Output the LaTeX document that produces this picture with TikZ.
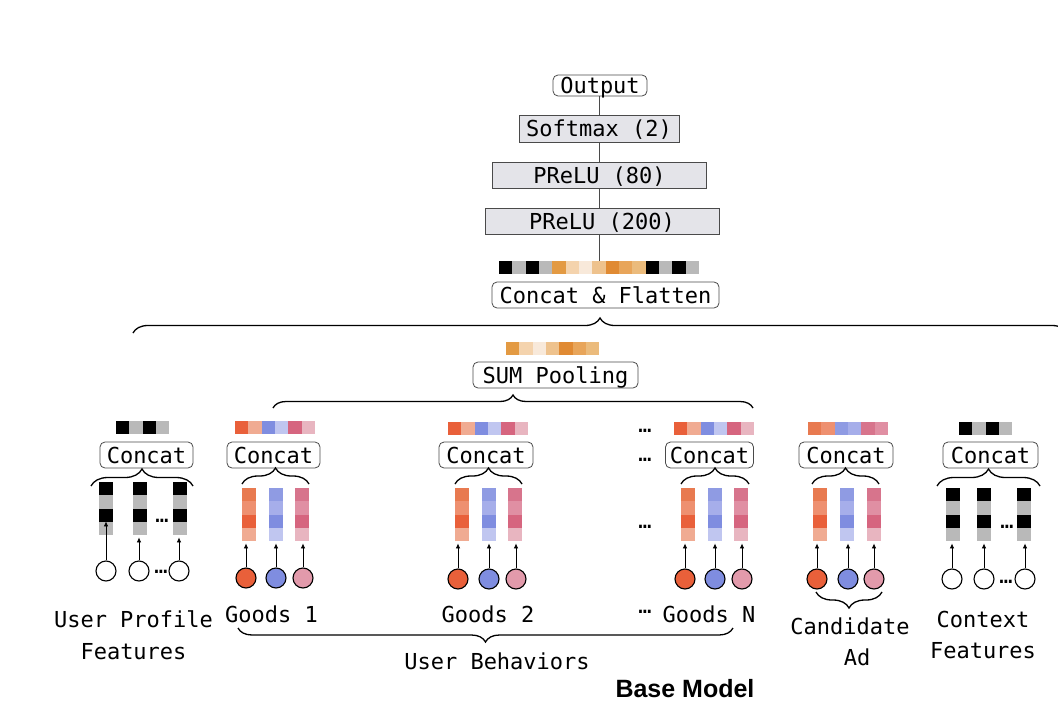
\documentclass[tikz,border=0pt]{standalone}
\usepackage{fontspec}
\newfontfamily\mono{DejaVu Sans Mono}
\newfontfamily\hel{Liberation Sans}
\usetikzlibrary{arrows.meta,decorations.pathreplacing}
\definecolor{gy}{HTML}{B9B9B9}
\definecolor{bk}{HTML}{000000}
\definecolor{oa}{HTML}{E39A43}
\definecolor{ob}{HTML}{F4D3AD}
\definecolor{oc}{HTML}{F8E9DA}
\definecolor{od}{HTML}{EEC28D}
\definecolor{oe}{HTML}{E08A33}
\definecolor{of}{HTML}{E8A55A}
\definecolor{og}{HTML}{EBBB7C}
\definecolor{ra}{HTML}{E9603A}
\definecolor{rb}{HTML}{F0AB92}
\definecolor{ba}{HTML}{7F8DE0}
\definecolor{bb}{HTML}{C0C6F0}
\definecolor{pa}{HTML}{D6657F}
\definecolor{pb}{HTML}{E8B5C0}
\definecolor{caa}{HTML}{E87A50}
\definecolor{cab}{HTML}{EE9070}
\definecolor{cba}{HTML}{8F9BE3}
\definecolor{cbb}{HTML}{A6AEEA}
\definecolor{cpa}{HTML}{D7748C}
\definecolor{cpb}{HTML}{E08FA3}
\definecolor{pk}{HTML}{E29AAB}
\definecolor{boxgray}{HTML}{E4E4E9}
\definecolor{edge}{HTML}{4A4A4A}
\newcommand\mkstrip[3]{\foreach \cc [count=\i from 0] in {#3}{\fill[fill=\cc] ({#1+\i*13.33},#2) rectangle ++(13.33,13.3);}}
\newcommand\mkcol[4]{%
  \node[inner sep=0pt, minimum width=13.5pt, minimum height=53pt, anchor=north west] (#1) at (#2,#3) {};
  \foreach \cc [count=\i from 0] in {#4}{\fill[fill=\cc] (#2,{#3+\i*13.25}) rectangle ++(13.5,13.25);}}
\begin{document}
\begin{tikzpicture}[x=1pt,y=-1pt,
  tbox/.style={draw=edge, line width=0.8pt, rounded corners=5pt, fill=white, inner sep=0pt,
    minimum height=26pt, font=\mono\fontsize{22}{26}\selectfont, text height=16pt, text depth=0pt},
  gbox/.style={draw=edge, line width=0.8pt, fill=boxgray, inner sep=0pt,
    minimum height=26pt, font=\mono\fontsize{22}{26}\selectfont, text height=16pt, text depth=0pt},
  lbl/.style={font=\mono\fontsize{22}{26}\selectfont, inner sep=0pt, anchor=base},
  ell/.style={font=\mono\fontsize{22}{26}\selectfont, inner sep=0pt},
  brc/.style={decorate, decoration={brace, amplitude=#1}, line width=1.3pt},
  arr/.style={-{Latex[length=5pt,width=4.5pt]}, line width=0.8pt, shorten >=2pt},
  circ/.style={circle, draw=black, line width=1.1pt, minimum size=20pt, inner sep=0pt},
  conn/.style={draw=edge, line width=0.9pt}]
\useasboundingbox (0,0) rectangle (1058,712);

% ---------- top stack ----------
\node[tbox, minimum height=21pt, minimum width=94pt] (out) at (600,85.5) {Output};
\node[gbox, minimum height=27pt, minimum width=160pt] (soft) at (599,128.5) {Softmax (2)};
\node[gbox, minimum width=214pt] (p80) at (599.5,175) {PReLU (80)};
\node[gbox, minimum width=234pt] (p200) at (602,221) {PReLU (200)};
\coordinate (tstrip) at (599,261);
\draw[conn] (out.south -| tstrip) -- (soft.north -| tstrip);
\draw[conn] (soft.south -| tstrip) -- (p80.north -| tstrip);
\draw[conn] (p80.south -| tstrip) -- (p200.north -| tstrip);
\draw[conn] (p200.south -| tstrip) -- (tstrip);
\mkstrip{499}{261}{bk,gy,bk,gy,oa,ob,oc,od,oe,of,og,bk,gy,bk,gy}
\node[tbox, minimum width=227pt] (flat) at (605.5,295) {Concat \& Flatten};

\coordinate (bigL) at (133,333);
\coordinate (bigR) at (1067,333);
\draw[brc=15pt] (bigL) -- (bigR);

% ---------- SUM pooling ----------
\mkstrip{506}{342}{oa,ob,oc,od,oe,of,og}
\node[tbox, minimum width=165pt] (sum) at (555.5,375) {SUM Pooling};
\coordinate (sumL) at (273,408);
\coordinate (sumR) at (753,408);
\draw[brc=13pt] (sumL) -- (sumR);

% ---------- User profile ----------
\mkstrip{116}{421}{bk,gy,bk,gy}
\node[tbox, minimum width=93pt] (cup) at (146.5,455) {Concat};
\coordinate (upL) at (91,486); \coordinate (upR) at (193,486);
\draw[brc=17pt] (upL) -- (upR);
\mkcol{upa}{99}{482}{bk,gy,bk,gy}
\mkcol{upb}{133}{482}{bk,gy,bk,gy}
\mkcol{upc}{173}{482}{bk,gy,bk,gy}
\node[ell] (upd1) at (162,521) {…};
\node[circ, fill=white] (upx) at (106,571) {};
\node[circ, fill=white] (upy) at (139,571) {};
\node[circ, fill=white] (upz) at (179,571) {};
\node[ell] (upd2) at (161,572) {…};
\draw[arr, shorten >=-14pt] (upx.north) -- (upx.north |- upa.south);
\draw[arr] (upy.north) -- (upy.north |- upb.south);
\draw[arr] (upz.north) -- (upz.north |- upc.south);
\node[lbl] (uplab1) at (133.5,627) {User Profile};
\node[lbl] (uplab2) at (133.5,659) {Features};

% ---------- Goods 1 ----------
\mkstrip{235}{421}{ra,rb,ba,bb,pa,pb}
\node[tbox, minimum width=93pt] (cg1) at (273.5,455) {Concat};
\coordinate (g1L) at (242,484); \coordinate (g1R) at (309,484);
\draw[brc=16pt] (g1L) -- (g1R);
\mkcol{g1a}{242}{488}{caa,cab,ra,rb}
\mkcol{g1b}{269}{488}{cba,cbb,ba,bb}
\mkcol{g1c}{295}{488}{cpa,cpb,pa,pb}
\node[circ, fill=ra] (g1x) at (246,578) {};
\node[circ, fill=ba] (g1y) at (276,578) {};
\node[circ, fill=pk] (g1z) at (303,578) {};
\draw[arr] (g1x.north) -- (g1x.north |- g1a.south);
\draw[arr] (g1y.north) -- (g1y.north |- g1b.south);
\draw[arr] (g1z.north) -- (g1z.north |- g1c.south);
\node[lbl] (g1lab) at (271.5,622) {Goods 1};

% ---------- Goods 2 ----------
\mkstrip{448}{422}{ra,rb,ba,bb,pa,pb}
\node[tbox, minimum width=94pt] (cg2) at (486,455) {Concat};
\coordinate (g2L) at (455,484); \coordinate (g2R) at (522,484);
\draw[brc=16pt] (g2L) -- (g2R);
\mkcol{g2a}{455}{488}{caa,cab,ra,rb}
\mkcol{g2b}{482}{488}{cba,cbb,ba,bb}
\mkcol{g2c}{508}{488}{cpa,cpb,pa,pb}
\node[circ, fill=ra] (g2x) at (458,579) {};
\node[circ, fill=ba] (g2y) at (489,579) {};
\node[circ, fill=pk] (g2z) at (516,579) {};
\draw[arr] (g2x.north) -- (g2x.north |- g2a.south);
\draw[arr] (g2y.north) -- (g2y.north |- g2b.south);
\draw[arr] (g2z.north) -- (g2z.north |- g2c.south);
\node[lbl] (g2lab) at (488,622) {Goods 2};

% ---------- dots ----------
\node[ell] (gd1) at (645,431) {…};
\node[ell] (gd2) at (645,460) {…};
\node[ell] (gd3) at (645,527) {…};
\node[ell] (gd4) at (645,612) {…};

% ---------- Goods N ----------
\mkstrip{674}{422}{ra,rb,ba,bb,pa,pb}
\node[tbox, minimum width=88pt] (cgn) at (709.5,455) {Concat};
\coordinate (gnL) at (681,484); \coordinate (gnR) at (749,484);
\draw[brc=16pt] (gnL) -- (gnR);
\mkcol{gna}{681}{488}{caa,cab,ra,rb}
\mkcol{gnb}{708}{488}{cba,cbb,ba,bb}
\mkcol{gnc}{734}{488}{cpa,cpb,pa,pb}
\node[circ, fill=ra] (gnx) at (685,579) {};
\node[circ, fill=ba] (gny) at (715,579) {};
\node[circ, fill=pk] (gnz) at (742,579) {};
\draw[arr] (gnx.north) -- (gnx.north |- gna.south);
\draw[arr] (gny.north) -- (gny.north |- gnb.south);
\draw[arr] (gnz.north) -- (gnz.north |- gnc.south);
\node[lbl] (gnlab) at (709,622) {Goods N};

\coordinate (ubR) at (733,628); \coordinate (ubL) at (238,628);
\draw[brc=14pt] (ubR) -- (ubL);
\node[lbl] (ublab) at (497,669) {User Behaviors};

% ---------- Candidate Ad ----------
\mkstrip{808}{422}{caa,cab,cba,cbb,cpa,cpb}
\node[tbox, minimum width=94pt] (cca) at (846,455) {Concat};
\coordinate (caL) at (812,484); \coordinate (caR) at (879,484);
\draw[brc=16pt] (caL) -- (caR);
\mkcol{caa}{813}{488}{caa,cab,ra,rb}
\mkcol{cab}{840}{488}{cba,cbb,ba,bb}
\mkcol{cac}{867}{488}{cpa,cpb,pa,pb}
\node[circ, fill=ra] (cax) at (817,579) {};
\node[circ, fill=ba] (cay) at (848,579) {};
\node[circ, fill=pk] (caz) at (874,579) {};
\draw[arr] (cax.north) -- (cax.north |- caa.south);
\draw[arr] (cay.north) -- (cay.north |- cab.south);
\draw[arr] (caz.north) -- (caz.north |- cac.south);
\coordinate (cbR) at (882,592); \coordinate (cbL) at (816,592);
\draw[brc=16pt] (cbR) -- (cbL);
\node[lbl] (calab1) at (850,634) {Candidate};
\node[lbl] (calab2) at (857,665) {Ad};

% ---------- Context ----------
\mkstrip{959}{422}{bk,gy,bk,gy}
\node[tbox, minimum width=95pt] (cct) at (990.5,455) {Concat};
\coordinate (ctL) at (937,486); \coordinate (ctR) at (1040,486);
\draw[brc=17pt] (ctL) -- (ctR);
\mkcol{cta}{946}{488}{bk,gy,bk,gy}
\mkcol{ctb}{977}{488}{bk,gy,bk,gy}
\mkcol{ctc}{1017}{488}{bk,gy,bk,gy}
\node[ell] (ctd1) at (1007,527) {…};
\node[circ, fill=white] (ctx) at (952,579) {};
\node[circ, fill=white] (cty) at (984,579) {};
\node[circ, fill=white] (ctz) at (1025,579) {};
\node[ell] (ctd2) at (1006,582) {…};
\draw[arr] (ctx.north) -- (ctx.north |- cta.south);
\draw[arr] (cty.north) -- (cty.north |- ctb.south);
\draw[arr] (ctz.north) -- (ctz.north |- ctc.south);
\node[lbl] (ctlab1) at (983,627) {Context};
\node[lbl] (ctlab2) at (983,658) {Features};

\node[font=\hel\bfseries\fontsize{25}{29}\selectfont, inner sep=0pt, anchor=base] (bm) at (685,697) {Base Model};
\end{tikzpicture}
\end{document}
